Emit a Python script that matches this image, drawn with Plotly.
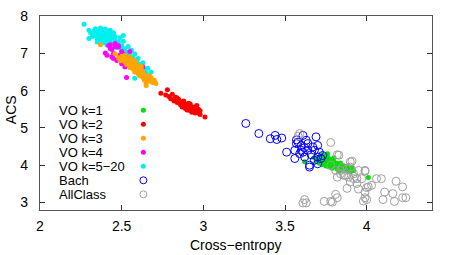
import plotly.graph_objects as go

# ---- data ----
vo_k1 = [(3.62,4.09),(3.68,4.20),(3.69,4.10),(3.70,4.16),(3.71,4.05),(3.72,4.22),(3.72,4.12),(3.73,4.02),
         (3.74,4.18),(3.74,4.08),(3.75,4.12),(3.75,3.98),(3.76,4.31),(3.76,4.05),(3.77,4.15),(3.77,3.95),
         (3.78,4.08),(3.78,4.00),(3.79,4.12),(3.79,3.92),(3.80,4.02),(3.80,4.10),(3.81,3.96),(3.82,4.05),
         (3.82,3.90),(3.83,4.00),(3.84,3.94),(3.84,4.06),(3.85,3.88),(3.86,3.98),(3.87,3.92),(3.88,3.84),
         (3.88,3.98),(3.89,3.90),(3.90,3.82),(3.91,3.94),(3.92,3.86),(4.01,3.67),(3.73,4.28),(3.80,4.20),
         (3.71,4.18),(3.76,4.22),(3.83,3.84),(3.86,3.86),(3.78,4.16)]
vo_k2 = [(2.74,5.93),(2.77,5.88),(2.78,6.02),(2.81,5.90),(2.80,5.78),(2.82,5.72),(2.83,5.82),(2.84,5.68),
         (2.85,5.76),(2.86,5.62),(2.86,5.70),(2.87,5.56),(2.87,5.66),(2.88,5.72),(2.88,5.60),(2.89,5.52),
         (2.89,5.64),(2.90,5.58),(2.90,5.48),(2.91,5.66),(2.91,5.54),(2.92,5.46),(2.92,5.58),(2.93,5.50),
         (2.93,5.42),(2.94,5.56),(2.94,5.46),(2.95,5.40),(2.95,5.52),(2.96,5.44),(2.96,5.60),(2.97,5.40),
         (2.97,5.50),(2.98,5.46),(3.01,5.29),(2.84,5.80),(2.92,5.64),(2.98,5.36),(2.79,5.84),(2.83,5.74)]
vo_k3 = [(2.37,7.23),(2.46,6.99),(2.48,6.88),(2.49,6.80),(2.50,6.92),(2.51,6.84),(2.52,6.76),(2.53,6.88),
         (2.53,6.70),(2.54,6.80),(2.55,6.72),(2.55,6.62),(2.56,6.84),(2.56,6.68),(2.57,6.76),(2.57,6.58),
         (2.58,6.66),(2.58,6.50),(2.59,6.72),(2.59,6.58),(2.60,6.62),(2.60,6.46),(2.61,6.54),(2.61,6.40),
         (2.62,6.58),(2.62,6.45),(2.63,6.50),(2.63,6.35),(2.64,6.42),(2.64,6.28),(2.65,6.38),(2.65,6.20),
         (2.66,6.30),(2.67,6.25),(2.68,6.35),(2.69,6.22),(2.70,6.28),(2.71,6.19),(2.65,6.14),(2.55,6.90),
         (2.52,6.95),(2.58,6.80),(2.62,6.65),(2.67,6.40)]
vo_k4 = [(2.42,7.21),(2.43,7.13),(2.46,7.26),(2.48,7.17),(2.40,7.01),(2.45,6.99),(2.49,6.95),(2.47,6.81),
         (2.50,6.72),(2.53,6.90),(2.52,6.63),(2.56,6.68),(2.53,6.35),(2.63,6.63),(2.61,6.54),(2.45,6.86),
         (2.43,7.23),(2.48,7.20),(2.55,7.05),(2.41,6.95),(2.44,7.10),(2.50,7.05),(2.52,6.82),(2.57,6.78),
         (2.44,6.90),(2.58,6.55),(2.46,7.18),(2.51,6.98)]
vo_k5_20 = [(2.27,7.78),(2.30,7.62),(2.31,7.55),(2.33,7.48),(2.33,7.60),(2.34,7.66),(2.35,7.52),(2.35,7.40),
            (2.36,7.58),(2.37,7.45),(2.37,7.34),(2.38,7.62),(2.38,7.50),(2.39,7.40),(2.39,7.28),(2.40,7.55),
            (2.40,7.45),(2.41,7.35),(2.41,7.22),(2.42,7.60),(2.42,7.48),(2.43,7.38),(2.43,7.30),(2.44,7.52),
            (2.44,7.42),(2.45,7.25),(2.46,7.35),(2.46,7.45),(2.47,7.15),(2.48,7.30),(2.49,7.42),(2.50,7.20),
            (2.50,7.08),(2.51,7.32),(2.52,7.12),(2.53,7.02),(2.54,7.18),(2.55,6.95),(2.56,7.08),(2.57,6.88),
            (2.58,6.98),(2.59,6.78),(2.60,6.86),(2.61,6.70),(2.62,6.62),(2.63,6.75),(2.64,6.55),(2.65,6.48),
            (2.66,6.60),(2.55,6.80),(2.58,6.62),(2.62,6.52),(2.30,7.40),(2.35,7.30),(2.32,7.45),(2.51,7.48),
            (2.37,7.68),(2.40,7.65),(2.43,7.62),(2.58,6.33),(2.68,6.50),(2.36,7.36),(2.45,7.55)]
bach = [(3.26,5.12),(3.34,4.85),(3.41,4.71),(3.44,4.80),(3.45,4.69),(3.48,4.73),(3.51,4.35),(3.56,4.40),
        (3.56,4.18),(3.57,4.68),(3.60,4.53),(3.61,4.35),(3.63,4.67),(3.64,4.40),(3.65,4.00),(3.67,4.49),
        (3.69,4.76),(3.70,4.53),(3.70,4.22),(3.71,4.35),(3.72,4.18),(3.68,4.13),(3.59,4.31),(3.62,4.22),
        (3.64,4.58),(3.57,4.58),(3.61,4.80),(3.68,4.40),(3.65,3.95),(3.70,4.04),(3.60,4.40),(3.58,4.62),
        (3.66,4.28),(3.62,4.47),(3.73,4.26)]
allclass = [(3.59,4.85),(3.78,4.61),(3.82,4.28),(3.91,4.11),(3.78,4.00),(3.81,3.86),(3.84,3.77),(3.87,3.73),
            (3.89,3.68),(3.92,3.77),(3.94,3.64),(3.95,3.36),(3.99,3.84),(4.00,3.40),(4.03,3.46),(4.06,3.64),
            (4.09,3.64),(4.18,3.57),(4.22,3.42),(4.11,3.28),(4.16,3.24),(4.10,3.08),(4.17,3.03),(4.22,3.13),
            (4.24,3.13),(3.99,3.13),(4.00,3.08),(3.98,3.04),(3.82,3.13),(3.78,3.03),(3.74,3.03),(3.62,3.08),
            (3.61,2.99),(3.63,2.99),(3.83,4.27),(3.90,4.09),(3.90,3.95),(3.86,3.73),(3.95,3.86),(3.99,3.86),
            (3.97,3.64),(4.01,3.42),(3.99,3.28),(3.88,3.38),(3.81,3.22),(3.79,3.01),(3.92,3.64),(3.84,3.86),
            (3.82,3.68),(3.90,3.55),(3.94,3.51),(3.58,4.78),(3.85,3.95),(3.88,3.90)]

series_names = ["VO k=1", "VO k=2", "VO k=3", "VO k=4", "VO k=5\u221220", "Bach", "AllClass"]
series_data = [vo_k1, vo_k2, vo_k3, vo_k4, vo_k5_20, bach, allclass]
series_colors = ["#00e000", "#ff0000", "#ffa500", "#ff00ff", "#00f0f0", "#0000ff", "#a0a0a0"]
series_open = [False, False, False, False, False, True, True]
draw_order = [4, 3, 2, 1, 0, 5, 6]

x_ticks = [2, 2.5, 3, 3.5, 4]
y_ticks = [3, 4, 5, 6, 7, 8]
x_title = "Cross\u2212entropy"
y_title = "ACS"

FONT = "Liberation Sans, Arial, sans-serif"

fig = go.Figure()
for i in draw_order:
    pts = series_data[i]
    if series_open[i]:
        marker = dict(symbol="circle-open", size=8, color=series_colors[i], line=dict(width=1, color=series_colors[i]))
    else:
        marker = dict(symbol="circle", size=5, color=series_colors[i], line=dict(width=0))
    fig.add_trace(go.Scatter(x=[p[0] for p in pts], y=[p[1] for p in pts], mode="markers",
                             marker=marker, name=series_names[i], showlegend=False, hoverinfo="skip"))

# plot area target in page pixels
L, R, T, B = 40, 431.7, 15.7, 210.0
W, H = R - L, B - T
FIG_W, FIG_H = 457, 255
def px(xp): return (xp - L) / W
def py(yp): return (B - yp) / H

annotations = []
shapes = []
for k, name in enumerate(series_names):
    yc = 110 + 14.05 * k
    annotations.append(dict(x=px(57), y=py(yc), xref="paper", yref="paper", text=name, showarrow=False,
                            xanchor="left", yanchor="middle", font=dict(family=FONT, size=13, color="#000")))
    if series_open[k]:
        shapes.append(dict(type="circle", xref="paper", yref="paper", xsizemode="pixel", ysizemode="pixel",
                           xanchor=px(143.3), yanchor=py(yc), x0=-3.5, x1=3.5, y0=-3.5, y1=3.5,
                           line=dict(color=series_colors[k], width=1), fillcolor="rgba(0,0,0,0)"))
    else:
        shapes.append(dict(type="circle", xref="paper", yref="paper", xsizemode="pixel", ysizemode="pixel",
                           xanchor=px(143.3), yanchor=py(yc), x0=-2.5, x1=2.5, y0=-2.5, y1=2.5,
                           line=dict(width=0), fillcolor=series_colors[k]))

# axis titles
annotations.append(dict(x=px(235), y=py(245), xref="paper", yref="paper", text=x_title, showarrow=False,
                        xanchor="center", yanchor="middle", font=dict(family=FONT, size=14, color="#000")))
annotations.append(dict(x=px(11), y=py(109), xref="paper", yref="paper", text=y_title, showarrow=False,
                        textangle=-90, xanchor="center", yanchor="middle", font=dict(family=FONT, size=14, color="#000")))

axis_common = dict(showgrid=False, zeroline=False, showline=True, mirror="ticks", linecolor="#555",
                   linewidth=1.2, ticks="inside", ticklen=5, tickcolor="#333", tickwidth=1, automargin=False,
                   ticklabeloverflow="allow", tickfont=dict(family=FONT, size=14, color="#000"))

fig.update_layout(
    width=FIG_W, height=FIG_H,
    margin=dict(l=L, r=FIG_W - R, t=T, b=FIG_H - B, autoexpand=False),
    paper_bgcolor="white", plot_bgcolor="white",
    xaxis=dict(range=[2, 4.4], tickvals=x_ticks, ticktext=[str(v) for v in x_ticks],
               ticklabelstandoff=3, **axis_common),
    yaxis=dict(range=[2.8, 8], tickvals=y_ticks, ticktext=[str(v) for v in y_ticks],
               ticklabelstandoff=8, **axis_common),
    annotations=annotations, shapes=shapes, showlegend=False,
)

fig.write_html("out.html", config={"displayModeBar": False},
               post_script="document.body.style.margin='0';document.body.style.overflow='hidden';")
